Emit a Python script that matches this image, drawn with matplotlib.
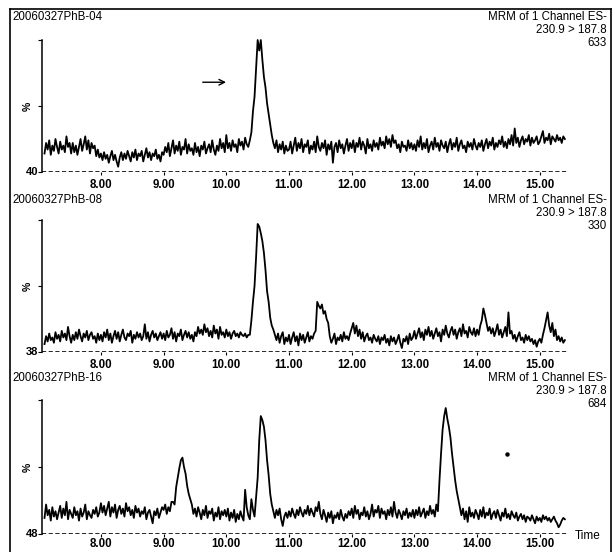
import numpy as np
import matplotlib
matplotlib.use('Agg')
import matplotlib.pyplot as plt
from matplotlib.lines import Line2D

plt.rcParams['font.family'] = ['Liberation Sans', 'DejaVu Sans']

# retention time grid (min): one reading every 0.025 min from 7.10
t_start, t_step = 7.10, 0.025

# relative intensity (%), one row per minute
trace_04 = [
    14, 22, 17, 24, 13, 20, 16, 25, 19, 14, 23, 17, 20, 15, 27, 19, 22, 14,
    22, 15, 20, 13, 19, 25, 16, 21, 27, 17, 24, 14, 22, 18, 20, 12, 17, 11,
    14, 9, 15, 10, 13, 7, 12, 16, 9, 13, 8, 4, 11, 15, 9, 14, 10, 16, 12, 8,
    15, 11, 17, 9, 14, 12, 16, 8, 13, 18, 11, 15, 9, 14, 12, 17, 10, 13, 8, 15,
    13, 19, 15, 22, 12, 18, 24, 14, 20, 16, 23, 13, 19, 17, 25, 14, 21, 16, 18, 13,
    22, 15, 19, 12, 20, 17, 23, 14, 18, 21, 15, 24, 17, 13, 20, 16, 25, 18, 22, 15,
    28, 18, 22, 16, 24, 19, 21, 15, 25, 20, 23, 17, 26, 21, 19, 24, 30, 46, 57, 78,
    100, 92, 100, 85, 72, 64, 52, 44, 36, 28, 22, 18, 24, 15, 21, 17, 23, 14, 20, 16,
    17, 23, 14, 20, 26, 16, 22, 18, 25, 15, 21, 19, 24, 14, 20, 17, 23, 15, 27, 19,
    16, 22, 18, 24, 13, 21, 17, 23, 7, 19, 22, 15, 24, 18, 21, 14, 20, 25, 16, 22,
    18, 24, 15, 22, 19, 26, 17, 23, 20, 14, 25, 18, 21, 16, 24, 19, 22, 17, 26, 20,
    23, 18, 27, 21, 25, 19, 28, 22, 24, 18, 21, 15, 23, 19, 20, 16, 24, 18, 22, 17,
    21, 16, 24, 19, 27, 17, 22, 18, 25, 15, 20, 23, 17, 26, 19, 22, 16, 24, 20, 18,
    23, 15, 21, 25, 17, 22, 19, 26, 16, 21, 24, 18, 20, 15, 23, 19, 22, 17, 25, 20,
    17, 22, 19, 24, 16, 21, 25, 18, 23, 20, 26, 17, 22, 19, 24, 21, 27, 19, 23, 18,
    25, 21, 28, 20, 33, 22, 26, 19, 24, 27, 21, 25, 23, 28, 20, 26, 22, 24, 27, 21,
    23, 27, 31, 22, 26, 24, 29, 21, 27, 25, 23, 28, 24, 26, 22, 27, 25,
]
trace_08 = [
    6, 12, 8, 14, 9, 11, 7, 15, 10, 13, 8, 16, 11, 14, 9, 19, 12, 7,
    13, 9, 15, 10, 17, 12, 8, 14, 11, 16, 9, 13, 15, 10, 12, 7, 14, 9,
    13, 8, 15, 11, 17, 9, 14, 7, 12, 16, 10, 15, 8, 13, 17, 11, 9, 14, 12, 16,
    7, 13, 10, 15, 11, 14, 9, 12, 21, 10, 15, 8, 13, 16, 11, 14, 9, 12, 15, 10,
    14, 9, 16, 11, 13, 18, 10, 15, 8, 14, 12, 17, 9, 13, 16, 11, 15, 10, 13, 8,
    15, 12, 19, 14, 17, 13, 21, 15, 18, 12, 16, 11, 20, 14, 17, 10, 19, 13, 15, 11,
    17, 12, 15, 10, 14, 16, 12, 14, 11, 15, 13, 12, 14, 11, 13, 13, 24, 38, 50, 72,
    97, 95, 90, 84, 75, 62, 46, 38, 26, 20, 17, 13, 9, 14, 7, 12, 15, 6, 11, 8,
    13, 6, 11, 15, 8, 12, 5, 14, 9, 13, 7, 11, 15, 8, 12, 10, 14, 16, 38, 35,
    33, 36, 29, 31, 25, 22, 12, 7, 10, 14, 6, 11, 9, 13, 8, 15, 10, 12, 9, 14,
    18, 22, 14, 20, 12, 17, 10, 15, 8, 12, 14, 9, 11, 7, 13, 10, 8, 12, 6, 11,
    9, 13, 7, 10, 5, 12, 8, 11, 6, 9, 13, 7, 3, 10, 8, 12, 6, 14, 9, 11,
    16, 10, 14, 18, 11, 15, 9, 17, 13, 19, 12, 16, 10, 14, 18, 12, 15, 8, 17, 13,
    20, 14, 11, 16, 19, 13, 17, 10, 15, 18, 12, 21, 14, 16, 11, 19, 15, 13, 18, 12,
    17, 13, 20, 24, 33, 28, 22, 16, 19, 14, 18, 12, 16, 21, 13, 17, 11, 15, 19, 12,
    30, 14, 16, 10, 13, 8, 12, 15, 9, 11, 7, 13, 9, 12, 8, 10, 6, 9, 4, 8,
    10, 7, 13, 18, 24, 30, 20, 15, 22, 12, 17, 9, 12, 8, 11, 7, 9,
]
trace_16 = [
    12, 22, 14, 18, 10, 20, 13, 17, 11, 16, 21, 12, 19, 14, 24, 11, 18, 15,
    12, 20, 14, 17, 10, 19, 13, 16, 22, 11, 17, 14, 12, 18, 15, 20, 13, 16,
    23, 16, 21, 14, 19, 24, 13, 20, 16, 22, 12, 18, 21, 15, 19, 13, 23, 17, 20, 14,
    18, 12, 21, 16, 19, 13, 17, 15, 20, 11, 16, 18, 13, 8, 17, 14, 19, 12, 16, 20,
    18, 22, 15, 20, 17, 24, 24, 22, 35, 42, 49, 55, 57, 50, 45, 36, 30, 26, 22, 15,
    19, 13, 20, 16, 11, 18, 14, 21, 12, 17, 15, 19, 10, 16, 13, 20, 11, 17, 14, 18,
    13, 19, 10, 16, 12, 18, 9, 15, 11, 17, 13, 10, 33, 20, 14, 11, 26, 18, 13, 28,
    42, 70, 88, 85, 80, 70, 55, 44, 30, 22, 17, 12, 18, 14, 19, 11, 6, 13, 16, 12,
    17, 13, 19, 15, 12, 18, 14, 20, 16, 13, 18, 15, 21, 14, 19, 16, 13, 20, 17, 24,
    15, 11, 18, 14, 9, 16, 12, 17, 8, 14, 12, 16, 11, 18, 13, 10, 15, 12, 17, 14,
    19, 12, 21, 15, 18, 11, 16, 14, 20, 13, 17, 11, 15, 22, 13, 18, 16, 21, 12, 19,
    15, 17, 11, 18, 14, 20, 13, 24, 16, 12, 18, 15, 11, 17, 14, 19, 12, 16, 13, 18,
    12, 18, 14, 20, 13, 16, 19, 12, 17, 14, 21, 15, 18, 13, 22, 17, 40, 60, 78, 88,
    94, 86, 80, 72, 60, 50, 40, 32, 26, 20, 14, 19, 11, 17, 9, 20, 13, 16, 12, 18,
    15, 11, 18, 13, 20, 12, 16, 14, 19, 11, 15, 17, 12, 18, 14, 10, 16, 13, 19, 12,
    15, 11, 17, 14, 12, 16, 10, 13, 15, 11, 14, 9, 13, 12, 10, 14, 11, 8, 13, 10,
    12, 9, 14, 11, 13, 10, 12, 9, 11, 13, 10, 8, 5, 7, 10, 12, 11,
]
stray_point = (14.48, 60)

sample_names = ["20060327PhB-04", "20060327PhB-08", "20060327PhB-16"]
channel_text = ["MRM of 1 Channel ES-", "230.9 > 187.8"]
max_counts = ["633", "330", "684"]
offsets = ["40", "38", "48"]
tick_vals = [8, 9, 10, 11, 12, 13, 14, 15]
tick_labels = ["8.00", "9.00", "10.00", "11.00", "12.00", "13.00", "14.00", "15.00"]

W, H = 615, 552
fig = plt.figure(figsize=(W / 100, H / 100), dpi=100)
fig.patch.set_facecolor('white')


def ftext(x, y, s, **kw):
    fig.text(x / W, 1 - y / H, s, **kw)


# panel placement in pixels: (axis top, baseline, header y, tick label pad)
panels = [(40, 172, 17, 3), (220, 352, 200, 3), (400, 534, 378, 1)]
traces = [trace_04, trace_08, trace_16]

for i, (top, base, head, pad) in enumerate(panels):
    y = np.array(traces[i], dtype=float)
    t = t_start + t_step * np.arange(len(y))
    ax = fig.add_axes([42 / W, 1 - base / H, 526 / W, (base - top) / H])
    ax.set_xlim(7.06, 15.45)
    ax.set_ylim(0, 100)
    ax.plot(t, y, color='black', lw=1.3, clip_on=False)
    ax.axhline(0, color='black', lw=1.2, ls=(0, (2.5, 1.5)))
    if i == 2:
        ax.plot([stray_point[0]], [stray_point[1]], 'o', color='black', ms=2.2)
    for s in ['top', 'right', 'bottom']:
        ax.spines[s].set_visible(False)
    ax.spines['left'].set_linewidth(1.1)
    ax.set_yticks([0, 50, 100])
    ax.set_yticklabels([])
    ax.tick_params(axis='y', length=3, width=0.8)
    ax.set_xticks(tick_vals)
    ax.set_xticklabels(tick_labels, fontsize=8.3, fontweight='bold')
    ax.tick_params(axis='x', length=2, width=0.8, pad=pad)
    ax.set_facecolor('none')

    ftext(12, head, sample_names[i], fontsize=8.3, va='center', ha='left')
    ftext(607, head, channel_text[0], fontsize=8.3, va='center', ha='right')
    ftext(607, head + 13, channel_text[1], fontsize=8.3, va='center', ha='right')
    ftext(607, head + 26, max_counts[i], fontsize=8.3, va='center', ha='right')
    ftext(38, base, offsets[i], fontsize=8, fontweight='bold', va='center', ha='right')
    ftext(28, (top + base) / 2, "%", fontsize=7.5, fontweight='bold', rotation=90,
          va='center', ha='center')

ftext(588, 536, "Time", fontsize=8.5, va='center', ha='center')

# arrow pointing at the peak in the first trace
ax0 = fig.axes[0]
ax0.annotate("", xy=(10.04, 68), xytext=(9.58, 68),
             arrowprops=dict(arrowstyle='->', color='black', lw=1.0))

# outer frame
for xs, ys in [([10, 10], [9, H]), ([10, 611], [9, 9]), ([611, 611], [9, H])]:
    fig.add_artist(Line2D([x / W for x in xs], [1 - v / H for v in ys],
                          color='black', lw=1.2))

fig.savefig('out.png', dpi=100)
